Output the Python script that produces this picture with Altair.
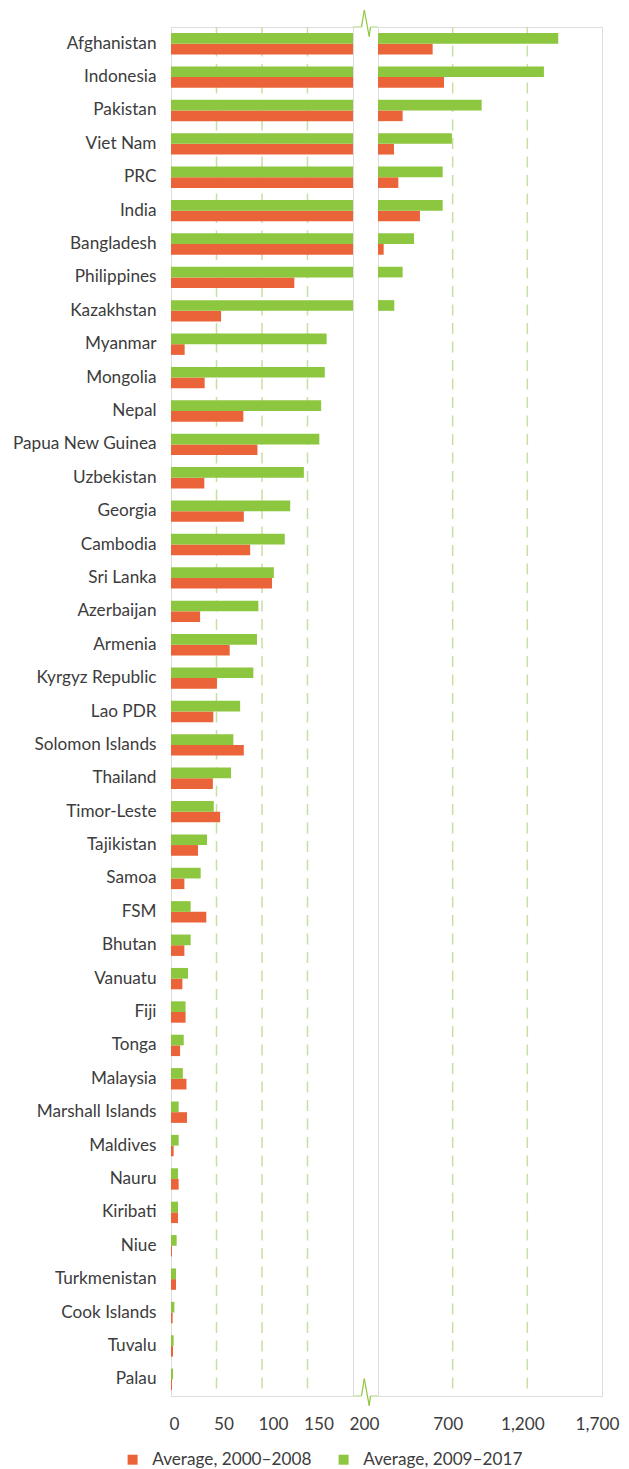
import altair as alt
import pandas as pd

countries = ["Afghanistan", "Indonesia", "Pakistan", "Viet Nam", "PRC", "India",
             "Bangladesh", "Philippines", "Kazakhstan", "Myanmar", "Mongolia", "Nepal",
             "Papua New Guinea", "Uzbekistan", "Georgia", "Cambodia", "Sri Lanka",
             "Azerbaijan", "Armenia", "Kyrgyz Republic", "Lao PDR", "Solomon Islands",
             "Thailand", "Timor-Leste", "Tajikistan", "Samoa", "FSM", "Bhutan", "Vanuatu",
             "Fiji", "Tonga", "Malaysia", "Marshall Islands", "Maldives", "Nauru",
             "Kiribati", "Niue", "Turkmenistan", "Cook Islands", "Tuvalu", "Palau"]

avg_2000_2008 = [566, 642, 365, 307, 336, 481, 238, 135.5, 55, 15, 37, 79.5, 95, 36.6,
                 80, 87, 111, 32, 64.5, 50.5, 46.5, 80, 46, 54, 29.7, 14.7, 38.8, 14.7,
                 12.5, 16, 10, 17, 17.6, 2.9, 8.4, 7.7, 1.1, 5.5, 1.8, 2.2, 1.1]

avg_2009_2017 = [1407, 1311, 894, 695, 633, 633, 441, 365, 309, 171, 169, 165, 163, 146,
                 131, 125, 113, 96, 94.5, 90.5, 76, 68.5, 66, 47, 39.6, 32.6, 21.6, 21.6,
                 18.7, 16, 14, 13, 8.4, 8.4, 7.7, 7.7, 6.2, 5.5, 3.7, 2.9, 2.2]

S1 = "Average, 2000–2008"
S2 = "Average, 2009–2017"

left_ticks = [0, 50, 100, 150, 200]
left_grid = [50, 100, 150]
right_ticks = [700, 1200, 1700]
right_grid = [700, 1200]

rows = []
for c, a, b in zip(countries, avg_2000_2008, avg_2009_2017):
    rows.append({"country": c, "series": S1, "value": a})
    rows.append({"country": c, "series": S2, "value": b})
df = pd.DataFrame(rows)

ORANGE = "#EB6439"
GREEN = "#8DC63F"
FRAME = "#C8E2A8"
GRID = "#C6E0A2"
FONT = "Lato"
TEXT = "#3c3c3c"
FS = 17.2

H = 1369
W1 = 182
W2 = 224
GAP = 25

yscale = alt.Scale(domain=countries, paddingInner=0.36, paddingOuter=0.18)
yoff = alt.YOffset("series:N", scale=alt.Scale(domain=[S2, S1]))
color = alt.Color(
    "series:N",
    scale=alt.Scale(domain=[S1, S2], range=[ORANGE, GREEN]),
    legend=alt.Legend(
        title=None, orient="none", direction="horizontal",
        legendX=-47, legendY=1424, padding=0,
        symbolType="square", symbolSize=100, symbolStrokeWidth=0,
        labelFont=FONT, labelFontSize=FS, labelColor=TEXT, labelLimit=0,
        labelOffset=11, columnPadding=23,
    ),
)

# ---------- left panel (0 - 200) ----------
left_bars = alt.Chart(df).mark_bar().encode(
    x=alt.X("value:Q",
            scale=alt.Scale(domain=[0, 200], clamp=True, nice=False),
            axis=alt.Axis(values=left_ticks, format=",d", title=None, grid=False,
                          domain=False, ticks=False, labelFont=FONT, labelFontSize=FS,
                          labelColor=TEXT, labelPadding=19, labelOverlap=False,
                          labelFlush=False,
                          labelOffset=alt.ExprRef(
                              "datum.value == 0 ? 3 : (datum.value == 50 ? 7 : 11)"))),
    y=alt.Y("country:N", scale=yscale, title=None,
            axis=alt.Axis(domain=False, ticks=False, labelFont=FONT, labelFontSize=FS,
                          labelColor=TEXT, labelPadding=15, labelLimit=300,
                          minExtent=162)),
    yOffset=yoff,
    color=color,
)

left_grid_layer = alt.Chart(pd.DataFrame({"g": left_grid})).mark_rule(
    color=GRID, strokeWidth=1.5, strokeDash=[11, 7.5]
).encode(x=alt.X("g:Q"))


def seg(x1, y1, x2, y2, col, w):
    return alt.Chart(pd.DataFrame({"a": [0]})).mark_rule(
        color=col, strokeWidth=w
    ).encode(x=alt.value(x1), x2=alt.value(x2), y=alt.value(y1), y2=alt.value(y2))


deco = []
for base, up, down in [(0, -17, 9.5), (H, -17.3, 9.7)]:
    deco.append(seg(W1, base, W1 + 8.5, base, FRAME, 1.5))
    deco.append(seg(W1 + 17.5, base, W1 + GAP, base, FRAME, 1.5))
    deco.append(seg(W1 + 8.5, base, W1 + 11.3, base + up, GREEN, 1.2))
    deco.append(seg(W1 + 11.3, base + up, W1 + 16.2, base + down, GREEN, 1.2))
    deco.append(seg(W1 + 16.2, base + down, W1 + 17.5, base, GREEN, 1.2))

left = alt.layer(left_grid_layer, left_bars, *deco).properties(width=W1, height=H)

# ---------- right panel (200 - 1700) ----------
right_bars = alt.Chart(df).transform_filter("datum.value > 200").mark_bar().encode(
    x=alt.X("value:Q",
            scale=alt.Scale(domain=[200, 1700], clamp=True, nice=False, zero=False),
            axis=alt.Axis(values=right_ticks, format=",d", title=None, grid=False,
                          domain=False, ticks=False, labelFont=FONT, labelFontSize=FS,
                          labelColor=TEXT, labelPadding=19, labelOffset=-5,
                          labelOverlap=False, labelFlush=False)),
    x2=alt.datum(200),
    y=alt.Y("country:N", scale=yscale, axis=None),
    yOffset=yoff,
    color=color,
)

right_grid_layer = alt.Chart(pd.DataFrame({"g": right_grid})).mark_rule(
    color=GRID, strokeWidth=1.5, strokeDash=[11, 7.5]
).encode(x=alt.X("g:Q"))

right = alt.layer(right_grid_layer, right_bars).properties(width=W2, height=H)

chart = alt.hconcat(left, right, spacing=GAP, bounds="flush").properties(
    padding=0
).configure_view(
    stroke=FRAME, strokeWidth=1.5
).configure(background="white", padding=0)

chart.save("out.html", embed_options={"renderer": "svg", "actions": False})
